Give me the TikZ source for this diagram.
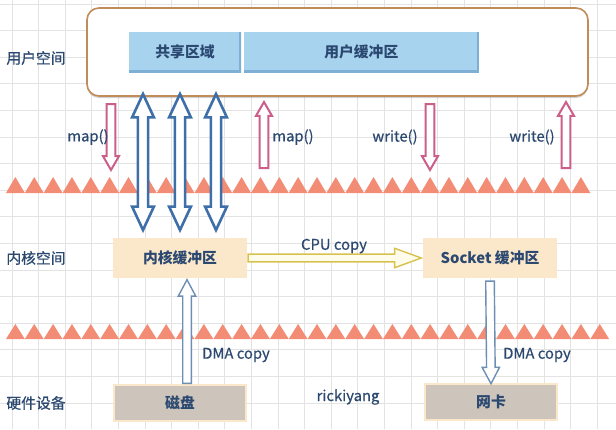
\documentclass[tikz,border=0pt]{standalone}
\usepackage{fontspec}
\setmainfont{Noto Sans CJK SC}
\newfontfamily\midfont{Noto Sans CJK SC}[FakeBold=0.5]
\usetikzlibrary{positioning,calc,shapes.arrows,shadows}
\definecolor{txt}{HTML}{2B4870}
\definecolor{gridc}{HTML}{E3E3E3}
\definecolor{usrline}{HTML}{C28B5A}
\definecolor{bluefill}{HTML}{A7D3EE}
\definecolor{blueedge}{HTML}{7EAFD4}
\definecolor{bluearr}{HTML}{3E6FA8}
\definecolor{pinkarr}{HTML}{CC5F8A}
\definecolor{tri}{HTML}{F38C74}
\definecolor{kfill}{HTML}{FBE7CA}
\definecolor{hwfill}{HTML}{CDC4BB}
\definecolor{cpuarr}{HTML}{D8C24E}
\definecolor{cpufill}{HTML}{FFFCEB}
\definecolor{dmaarr}{HTML}{6E8FB4}

\begin{document}
\begin{tikzpicture}[x=0.5pt, y=-0.5pt, node distance=1pt,
    font=\fontsize{7.4}{9}\selectfont\midfont, every node/.style={text=txt}]
\tikzset{
  lbl/.style={inner sep=0pt},
  bluebox/.style={fill=bluefill, minimum height=20pt, inner sep=0pt, font=\fontsize{7.4}{9}\selectfont\bfseries,
    path picture={\draw[blueedge, line width=2pt] (path picture bounding box.north east)
      -- (path picture bounding box.south east) -- (path picture bounding box.south west);}},
  kbox/.style={fill=kfill, minimum width=67pt, minimum height=20pt, inner sep=0pt, font=\fontsize{7.4}{9}\selectfont\bfseries},
  hwbox/.style={fill=hwfill, draw=kfill, line width=1pt, minimum width=66pt, minimum height=18pt, inner sep=0pt,
    font=\fontsize{7.4}{9}\selectfont\bfseries},
  arr/.style={to path={let \p1=(\tikztostart), \p2=(\tikztotarget),
      \n1={veclen(\x2-\x1,\y2-\y1)}, \n2={atan2(\y2-\y1,\x2-\x1)} in
      node[single arrow, draw, fill=white, inner xsep=0pt, minimum width=0pt, single arrow head indent=0pt,
        #1, minimum height=\n1, rotate=\n2, anchor=tail] at (\p1) {}}},
  dblarr/.style={to path={let \p1=(\tikztostart), \p2=(\tikztotarget), \p3=($(\tikztostart)!.5!(\tikztotarget)$),
      \n1={veclen(\x2-\x1,\y2-\y1)}, \n2={atan2(\y2-\y1,\x2-\x1)} in
      node[double arrow, draw, fill=white, inner xsep=0pt, minimum width=0pt, double arrow head indent=0pt,
        #1, minimum height=\n1, rotate=\n2] at (\p3) {}}},
  mapcall/.style={arr={draw=pinkarr, line width=1pt, inner ysep=1.7pt, single arrow head extend=1.8pt, single arrow tip angle=60}},
  share/.style={dblarr={draw=bluearr, line width=1.3pt, inner ysep=1.9pt, double arrow head extend=2.9pt, double arrow tip angle=50}},
  cpucopy/.style={arr={draw=cpuarr, fill=cpufill, line width=0.7pt, inner ysep=1.6pt, single arrow head extend=2.9pt, single arrow tip angle=40}},
  dmacopy/.style={arr={draw=dmaarr, line width=0.7pt, inner ysep=1.8pt, single arrow head extend=2.2pt, single arrow tip angle=56}},
}
\useasboundingbox (0,0) rectangle (616,429);
\fill[white] (0,0) rectangle (616,429);
\foreach \x in {12,38.6,...,616} \draw[gridc, line width=0.5pt] (\x,0) -- (\x,429);
\foreach \y in {4,30.6,...,429} \draw[gridc, line width=0.5pt] (0,\y) -- (616,\y);

% borders between spaces
\foreach \i in {0,...,30} \fill[tri] ({6+18.85*\i},193) -- ++(9.4,-16) -- ++(9.4,16) -- cycle;
\foreach \i in {0,...,31} \fill[tri] ({6+18.85*\i},339) -- ++(9.4,-15) -- ++(9.4,15) -- cycle;

% user space
\node[draw=usrline, line width=0.8pt, fill=white, rounded corners=6pt, minimum width=250.5pt, minimum height=44pt,
  drop shadow={opacity=0.35, shadow xshift=0pt, shadow yshift=-1pt}] (usr) at (337.5,52) {};
\node[bluebox, minimum width=56pt] (shr) at (185,52) {共享区域};
\node[bluebox, minimum width=117.5pt, right=of shr] (ubuf) {用户缓冲区};

% kernel space
\node[kbox] (kbuf) at (180,258) {内核缓冲区};
\node[kbox] (sbuf) at (490,258) {Socket 缓冲区};

% hardware
\node[hwbox] (disk) at (180,403) {磁盘};
\node[hwbox] (nic) at (491,402) {网卡};

\node[lbl] (lusr) at (36,58) {用户空间};
\node[lbl] (lker) at (36,258) {内核空间};
\node[lbl] (lhw) at (36,403) {硬件设备};

% mmap shared mapping
\foreach \x [count=\i] in {143,180,216}
{
	\coordinate (top\i) at (\x,94);
	\coordinate (bot\i) at (\x,230);
	\path (top\i) to[share] (bot\i);
}

% map() / write() calls
\coordinate (m1a) at (111,103); \coordinate (m1b) at (111,169);
\coordinate (m2a) at (264,169); \coordinate (m2b) at (264,103);
\coordinate (w1a) at (430,103); \coordinate (w1b) at (430,169);
\coordinate (w2a) at (566,169); \coordinate (w2b) at (566,103);
\foreach \from/\to in {m1a/m1b,m2a/m2b,w1a/w1b,w2a/w2b}
{
	\path (\from) to[mapcall] (\to);
}
\node[lbl] (lmap1) at (88,137) {map()};
\node[lbl] (lmap2) at (293,137) {map()};
\node[lbl] (lwr1) at (395,137) {write()};
\node[lbl] (lwr2) at (532,137) {write()};

% copies
\path (kbuf.east) to[cpucopy] ([xshift=-1pt]sbuf.west);
\node[lbl] (lcpu) at (334,246) {CPU copy};
\path ([xshift=3.5pt]disk.north) to[dmacopy] ([xshift=3.5pt,yshift=-1pt]kbuf.south);
\path ([yshift=-1pt]sbuf.south) to[dmacopy] (nic.north);
\node[lbl] (ldma1) at (236,355) {DMA copy};
\node[lbl] (ldma2) at (537,355) {DMA copy};

\node[lbl] (lname) at (348,397) {rickiyang};
\end{tikzpicture}
\end{document}
